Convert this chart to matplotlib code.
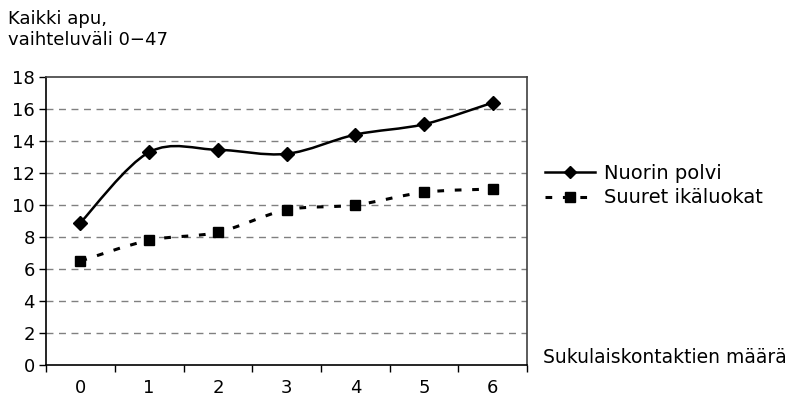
import matplotlib
matplotlib.use("Agg")
import matplotlib.pyplot as plt
from matplotlib.path import Path
from matplotlib.patches import PathPatch
from matplotlib.lines import Line2D

plt.rcParams['font.family'] = ['DejaVu Sans']

kontaktit = [0, 1, 2, 3, 4, 5, 6]
nuorin = [8.9, 13.3, 13.45, 13.2, 14.4, 15.05, 16.4]
suuret = [6.5, 7.8, 8.3, 9.7, 10.0, 10.8, 11.0]
sarjat = ['Nuorin polvi', 'Suuret ikäluokat']
yticks = [0, 2, 4, 6, 8, 10, 12, 14, 16, 18]


def smooth_path(xs, ys):
    # Excel-style smoothed line: cubic Bezier through points
    verts = [(xs[0], ys[0])]
    codes = [Path.MOVETO]
    n = len(xs)
    for i in range(n - 1):
        x0, y0 = (xs[i - 1], ys[i - 1]) if i > 0 else (xs[i], ys[i])
        x3, y3 = (xs[i + 2], ys[i + 2]) if i + 2 < n else (xs[i + 1], ys[i + 1])
        c1 = (xs[i] + (xs[i + 1] - x0) / 6, ys[i] + (ys[i + 1] - y0) / 6)
        c2 = (xs[i + 1] - (x3 - xs[i]) / 6, ys[i + 1] - (y3 - ys[i]) / 6)
        verts += [c1, c2, (xs[i + 1], ys[i + 1])]
        codes += [Path.CURVE4] * 3
    return Path(verts, codes)


fig = plt.figure(figsize=(7.94, 3.99), dpi=100)
ax = fig.add_axes([0.058, 0.085, 0.606, 0.722])

ax.set_xlim(-0.5, 6.5)
ax.set_ylim(0, 18)

for y in yticks[1:-1]:
    ax.axhline(y, color='#808080', lw=1.0, ls=(0, (5, 4)), zorder=1)

ax.add_patch(PathPatch(smooth_path(kontaktit, nuorin), fill=False,
                       edgecolor='black', lw=1.8, zorder=3))
ax.add_patch(PathPatch(smooth_path(kontaktit, suuret), fill=False,
                       edgecolor='black', lw=2.2, ls=(0, (2.2, 3.5)), zorder=3))
ax.plot(kontaktit, nuorin, ls='none', marker='D', ms=7, color='black', zorder=4)
ax.plot(kontaktit, suuret, ls='none', marker='s', ms=7.5, color='black', zorder=4)

ax.set_yticks(yticks)
ax.set_xticks(kontaktit)
ax.set_xticks([k - 0.5 for k in kontaktit] + [6.5], minor=True)
ax.tick_params(axis='x', which='major', length=0, labelsize=13, pad=10)
ax.tick_params(axis='x', which='minor', length=5, width=1, direction='out')
ax.tick_params(axis='y', length=5, width=1, direction='out', labelsize=13, pad=3)

for s in ['top', 'right']:
    ax.spines[s].set_color('#404040')
    ax.spines[s].set_linewidth(1.2)
for s in ['left', 'bottom']:
    ax.spines[s].set_color('black')
    ax.spines[s].set_linewidth(1.2)

fig.text(0.010, 0.975, 'Kaikki apu,\nvaihteluväli 0\u221247', fontsize=13,
         va='top', ha='left', linespacing=1.25)
fig.text(0.684, 0.105, 'Sukulaiskontaktien määrä', fontsize=13.5,
         va='center', ha='left')

handles = [
    Line2D([], [], color='black', lw=1.8, marker='D', ms=6),
    Line2D([], [], color='black', lw=2.2, ls=(0, (2.2, 3.5)), marker='s', ms=6.5),
]
fig.legend(handles, sarjat, loc='center left', bbox_to_anchor=(0.664, 0.535),
           frameon=False, fontsize=14, handlelength=2.6, handletextpad=0.45,
           labelspacing=0.3)

fig.savefig('out.png', dpi=100)
